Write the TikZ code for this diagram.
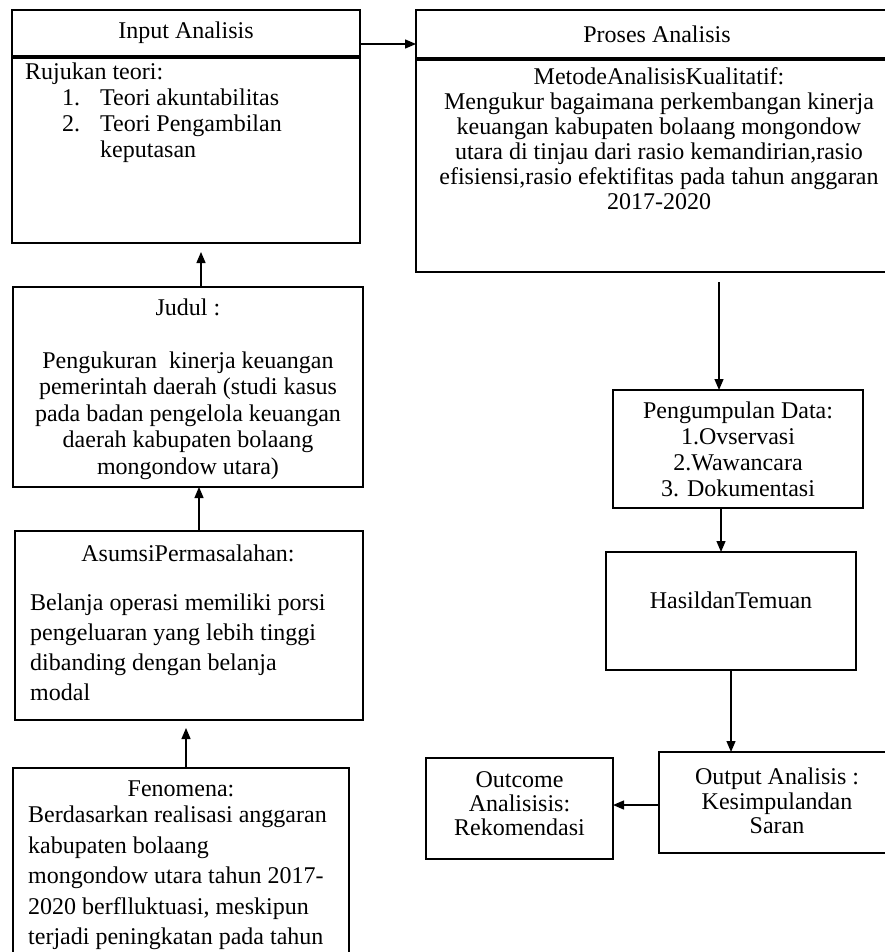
\documentclass[tikz,border=0pt]{standalone}
\usepackage{fontspec}
\setmainfont{Liberation Serif}
\usetikzlibrary{arrows.meta,fit}
\begin{document}
\begin{tikzpicture}[x=1pt,y=-1pt,
  box/.style={draw, line width=1.3pt, inner sep=0pt, outer sep=0pt},
  txt/.style={inner sep=0pt, font=\fontsize{24}{26}\selectfont},
  arr/.style={line width=1.3pt, -{Triangle[length=11pt,width=9pt]}}]
\useasboundingbox (0,0) rectangle (885,952);
\clip (0,0) rectangle (885,952);
\fill[white] (0,0) rectangle (885,952);
% boxes
\node[box, fit={(12,10)(360,56)}] (inhead) {};
\node[box, fit={(12,58)(360,243)}] (inbody) {};
\node[box, fit={(416,10)(902,58)}] (proshead) {};
\node[box, fit={(416,60)(902,272)}] (prosbody) {};
\node[box, fit={(13,287)(363,487)}] (judul) {};
\node[box, fit={(15,531)(363,720)}] (asumsi) {};
\node[box, fit={(13,768)(349,970)}] (fenomena) {};
\node[box, fit={(613,390)(863,508)}] (kumpul) {};
\node[box, fit={(606,552)(856,670)}] (hasil) {};
\node[box, fit={(659,752)(895,853)}] (output) {};
\node[box, fit={(426,758)(613,859)}] (outcome) {};
% texts
\node[txt] (tin) at (inhead.center) {Input Analisis};
\node[txt, align=left, anchor=north west, font=\fontsize{24}{26}\selectfont] (trujuk) at (25,63)
  {Rujukan teori:\\\hspace*{37pt}\makebox[38pt][l]{1.}Teori akuntabilitas\\\hspace*{37pt}\makebox[38pt][l]{2.}Teori Pengambilan\\\hspace*{75pt}keputasan};
\node[txt] (tpros) at (proshead.center -| 657,0) {Proses Analisis};
\node[txt, align=center, anchor=north, font=\fontsize{24}{25}\selectfont] (tprosbody) at (659,67.5)
  {MetodeAnalisisKualitatif:\\Mengukur bagaimana perkembangan kinerja\\keuangan kabupaten bolaang mongondow\\utara di tinjau dari rasio kemandirian,rasio\\efisiensi,rasio efektifitas pada tahun anggaran\\2017-2020};
\node[txt, align=center, anchor=north, font=\fontsize{24}{26.5}\selectfont] (tjudul) at (188,298.5)
  {Judul :\\[26.5pt]Pengukuran\ \ kinerja keuangan\\pemerintah daerah (studi kasus\\pada badan pengelola keuangan\\daerah kabupaten bolaang\\mongondow utara)};
\node[txt] (tasumsi) at (188,553) {AsumsiPermasalahan:};
\node[txt, align=left, anchor=north west, font=\fontsize{24}{30}\selectfont] (tasbody) at (30,593.5)
  {Belanja operasi memiliki porsi\\pengeluaran yang lebih tinggi\\dibanding dengan belanja\\modal};
\node[txt] (tfeno) at (181,789) {Fenomena:};
\node[txt, align=left, anchor=north west, font=\fontsize{24}{30.5}\selectfont] (tfenobody) at (28,806)
  {Berdasarkan realisasi anggaran\\kabupaten bolaang\\mongondow utara tahun 2017-\\2020 berflluktuasi, meskipun\\terjadi peningkatan pada tahun};
\node[txt, align=center] (tkumpul) at (kumpul.center) {Pengumpulan Data:\\1.Ovservasi\\2.Wawancara\\3. Dokumentasi};
\node[txt] (thasil) at (731,600) {HasildanTemuan};
\node[txt, align=center, font=\fontsize{24}{24.5}\selectfont] (toutput) at (777,801) {Output Analisis :\\Kesimpulandan\\Saran};
\node[txt, align=center, font=\fontsize{24}{24}\selectfont] (toutcome) at (519.5,804) {Outcome\\Analisisis:\\Rekomendasi};
% free ends
\coordinate (c1) at (201,252);
\coordinate (c2) at (186,728);
\coordinate (c3) at (719,282);
% connectors
\draw[arr] (inhead.east |- 0,44) -- (proshead.west |- 0,44);
\draw[arr] (judul.north -| c1) -- (c1);
\draw[arr] (asumsi.north -| 199,0) -- (judul.south -| 199,0);
\draw[arr] (fenomena.north -| c2) -- (c2);
\draw[arr] (c3) -- (kumpul.north -| c3);
\draw[arr] (kumpul.south -| 721,0) -- (hasil.north -| 721,0);
\draw[arr] (hasil.south -| 731,0) -- (output.north -| 731,0);
\draw[arr] (output.west |- 0,805) -- (outcome.east |- 0,805);
\end{tikzpicture}
\end{document}
